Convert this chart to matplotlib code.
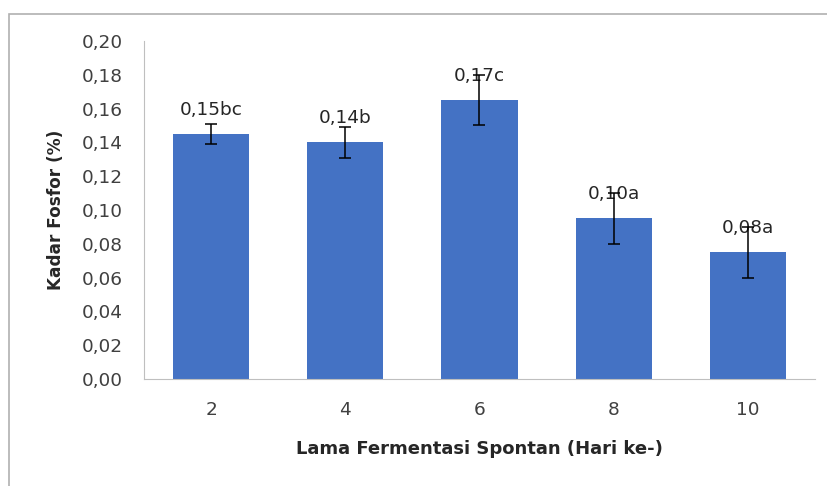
import matplotlib
matplotlib.use('Agg')
import matplotlib.pyplot as plt
from matplotlib.patches import Rectangle

days = ['2', '4', '6', '8', '10']
fosfor = [0.145, 0.140, 0.165, 0.095, 0.075]
err = [0.006, 0.009, 0.015, 0.015, 0.015]
labels = ['0,15bc', '0,14b', '0,17c', '0,10a', '0,08a']
yticks = [0.00, 0.02, 0.04, 0.06, 0.08, 0.10, 0.12, 0.14, 0.16, 0.18, 0.20]

plt.rcParams['font.family'] = ['DejaVu Sans']

fig = plt.figure(figsize=(8.28, 4.86), dpi=100)
ax = fig.add_axes([144/828, 1 - 379/486, 671/828, 338/486])

# chart frame (screenshot cut off at right/bottom)
fig.add_artist(Rectangle((9/828, -0.1), 1.2, 1 - 14/486 + 0.1, transform=fig.transFigure,
                         fill=False, edgecolor='#b0b0b0', lw=1.2))

x = range(len(days))
ax.bar(x, fosfor, width=0.567, color='#4472C4', zorder=2)
ax.errorbar(x, fosfor, yerr=err, fmt='none', ecolor='black', elinewidth=1.1,
            capsize=4, capthick=1.1, zorder=4)

for xi, v, lab in zip(x, fosfor, labels):
    ax.annotate(lab, (xi, v), xytext=(0, 17.5), textcoords='offset points',
                ha='center', va='center', fontsize=13.3, color='#262626', zorder=3)

ax.set_xlim(-0.5, 4.5)
ax.set_ylim(0, 0.20)
ax.set_xticks(list(x))
ax.set_xticklabels(days)
ax.set_yticks(yticks)
ax.set_yticklabels([f'{t:.2f}'.replace('.', ',') for t in yticks])
ax.tick_params(axis='both', length=0, labelsize=13.3, colors='#404040')
ax.tick_params(axis='y', pad=15)
ax.tick_params(axis='x', pad=16)

for s in ['top', 'right']:
    ax.spines[s].set_visible(False)
ax.spines['left'].set_color('#bfbfbf')
ax.spines['bottom'].set_color('#bfbfbf')

ax.set_ylabel('Kadar Fosfor (%)', fontsize=12.2, fontweight='bold', color='#262626')
ax.set_xlabel('Lama Fermentasi Spontan (Hari ke-)', fontsize=13, fontweight='bold', color='#262626')
ax.yaxis.set_label_coords(-0.118, 0.5)
ax.xaxis.set_label_coords(0.5, -0.179)

plt.savefig('out.png', dpi=100)
plt.close()
